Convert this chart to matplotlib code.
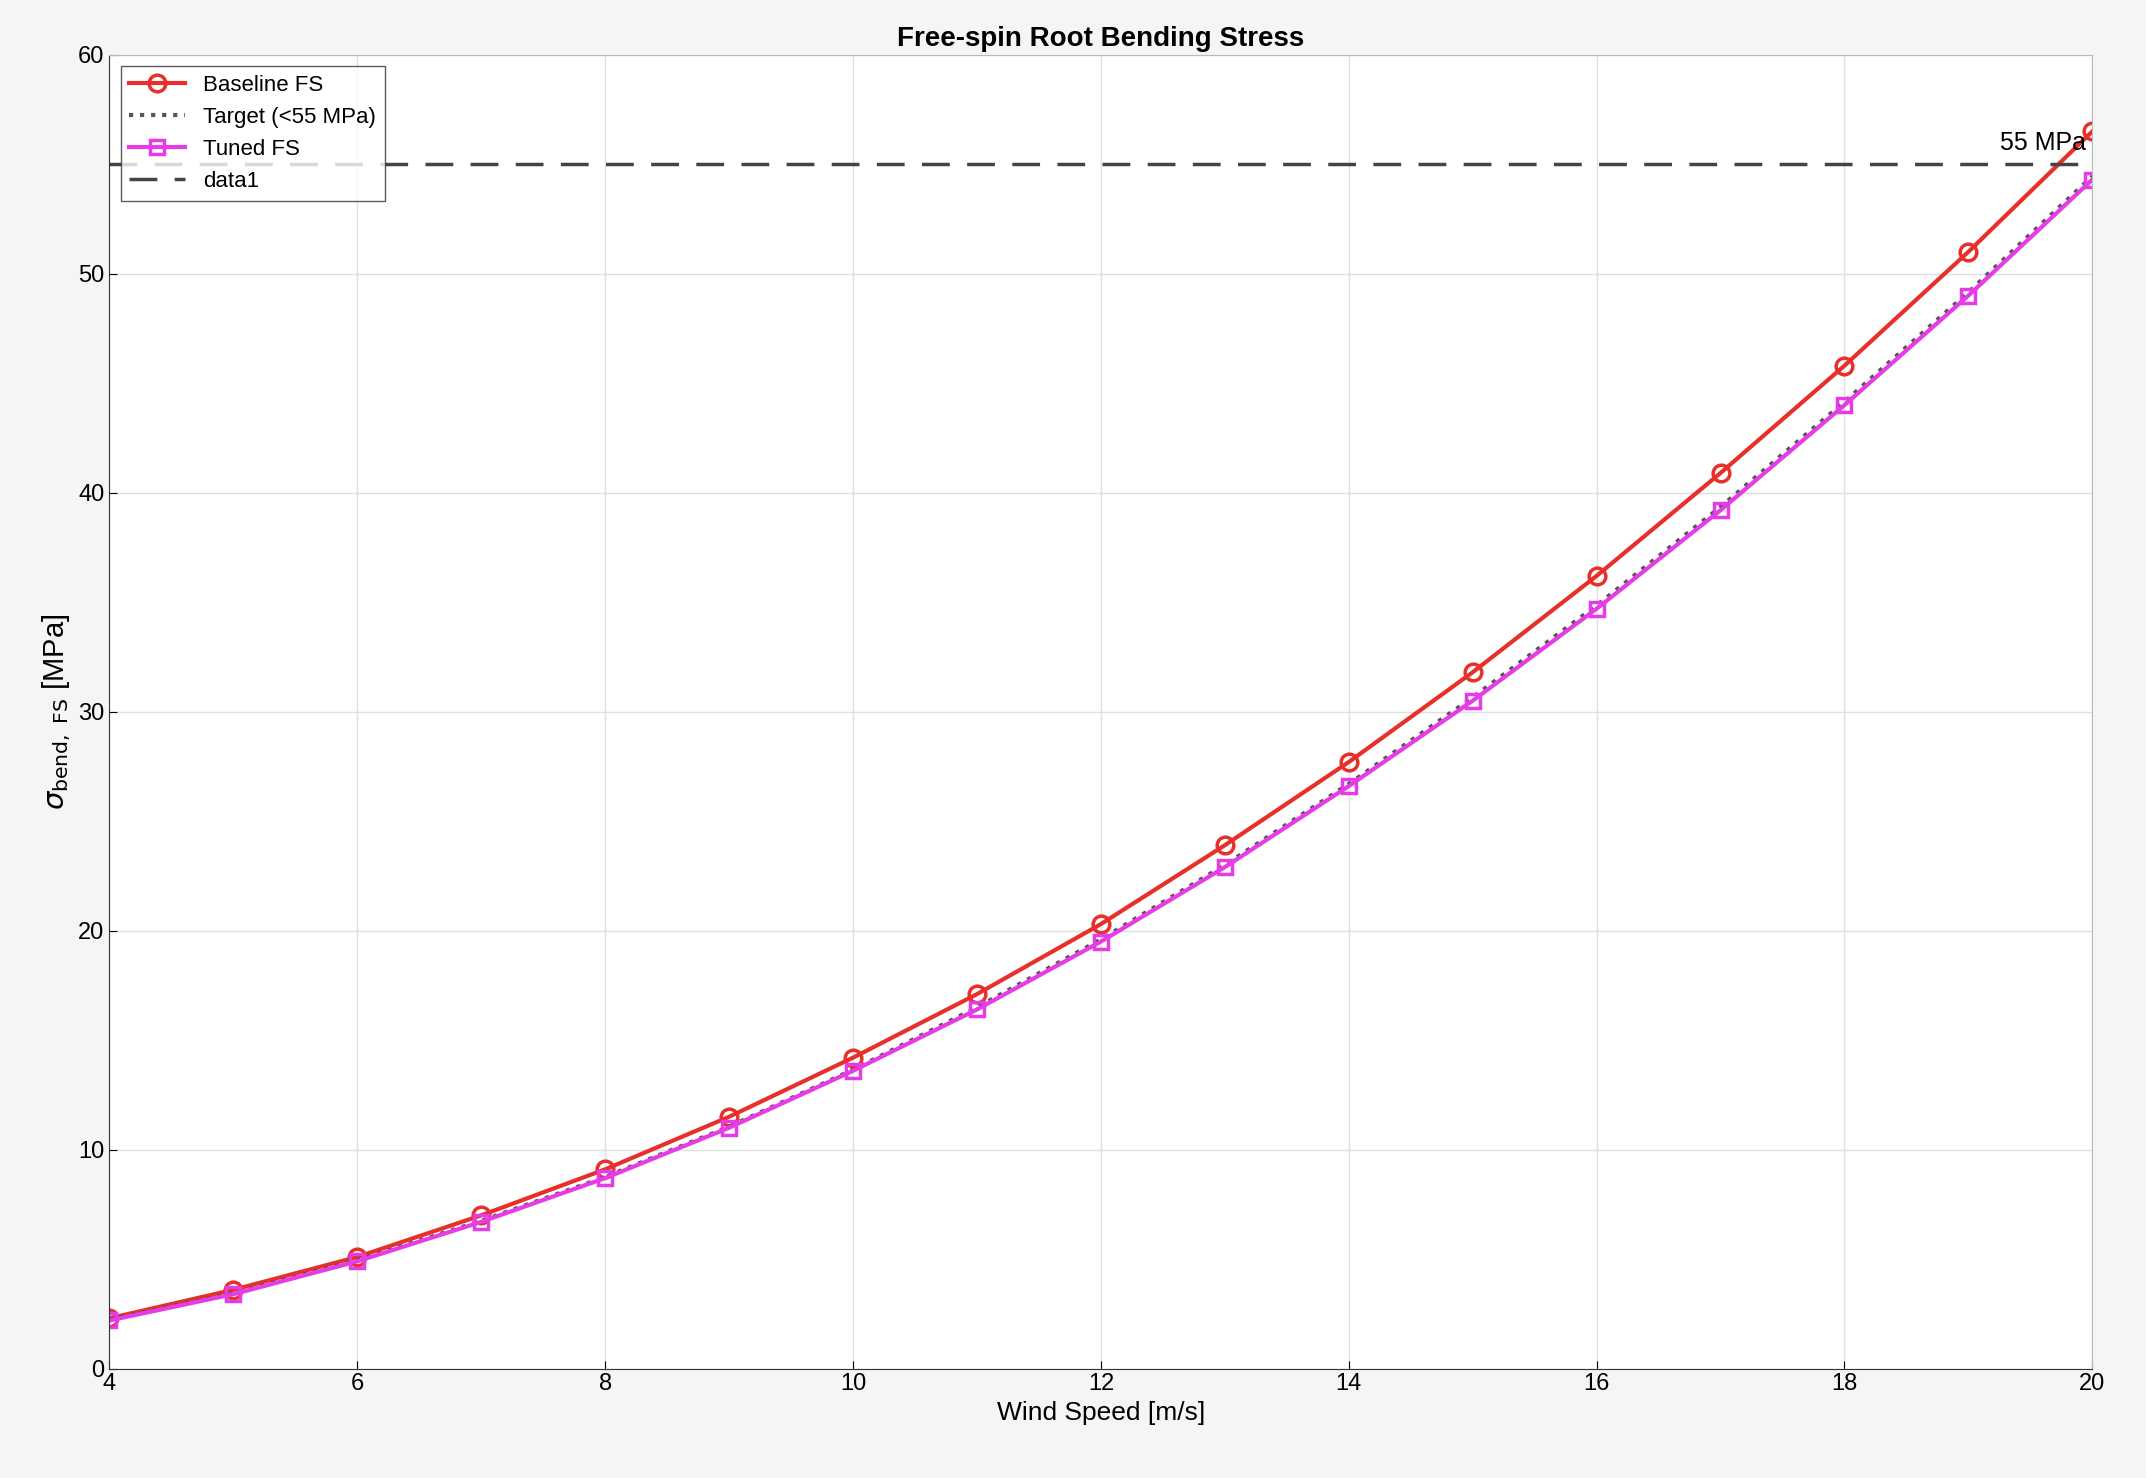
import matplotlib
matplotlib.use("Agg")
import matplotlib.pyplot as plt

wind = [4,5,6,7,8,9,10,11,12,13,14,15,16,17,18,19,20]
baseline = [2.3,3.6,5.1,7.0,9.1,11.5,14.2,17.1,20.3,23.9,27.7,31.8,36.2,40.9,45.8,51.0,56.5]
target = [2.25,3.45,4.95,6.75,8.75,11.05,13.65,16.5,19.6,23.0,26.7,30.65,34.85,39.35,44.15,49.15,54.45]
tuned = [2.2,3.4,4.9,6.7,8.7,11.0,13.6,16.4,19.5,22.9,26.6,30.5,34.7,39.2,44.0,49.0,54.3]
limit = 55

plt.rcParams['font.family'] = ['Liberation Sans', 'DejaVu Sans']
fig = plt.figure(figsize=(21.46,14.78), dpi=100, facecolor='#f5f5f5')
ax = fig.add_axes([0.051,0.074,0.924,0.889])
ax.plot(wind, baseline, '-o', color='#e8302a', lw=3, ms=12, mfc='none', mew=2.5, label='Baseline FS')
ax.plot(wind, target, ':', color='#555555', lw=3, label='Target (<55 MPa)')
ax.plot(wind, tuned, '-s', color='#e63ce6', lw=3, ms=10, mfc='none', mew=2.5, label='Tuned FS')
ax.plot([4,20], [limit,limit], '--', color='#444444', lw=2.5, dashes=(8,5), label='data1')
ax.text(19.95, limit+0.4, '55 MPa', ha='right', va='bottom', fontsize=18)
ax.set_xlim(4,20); ax.set_ylim(0,60)
ax.set_xticks(range(4,21,2)); ax.set_yticks(range(0,61,10))
ax.tick_params(labelsize=17, direction='in', length=6)
ax.grid(True, color='#e0e0e0', lw=1)
for s in ax.spines.values():
    s.set_color('#bbbbbb')
ax.spines['bottom'].set_color('#333333'); ax.spines['left'].set_color('#333333')
ax.set_xlabel('Wind Speed [m/s]', fontsize=19)
ax.set_ylabel(r'$\sigma_{\mathrm{bend,\ FS}}$ [MPa]', fontsize=21)
ax.set_title('Free-spin Root Bending Stress', fontsize=20, fontweight='bold')
leg = ax.legend(loc='upper left', fontsize=16, fancybox=False, edgecolor='#333333', handlelength=2.5, borderaxespad=0.5)
fig.savefig('out.png', dpi=100, facecolor=fig.get_facecolor())
